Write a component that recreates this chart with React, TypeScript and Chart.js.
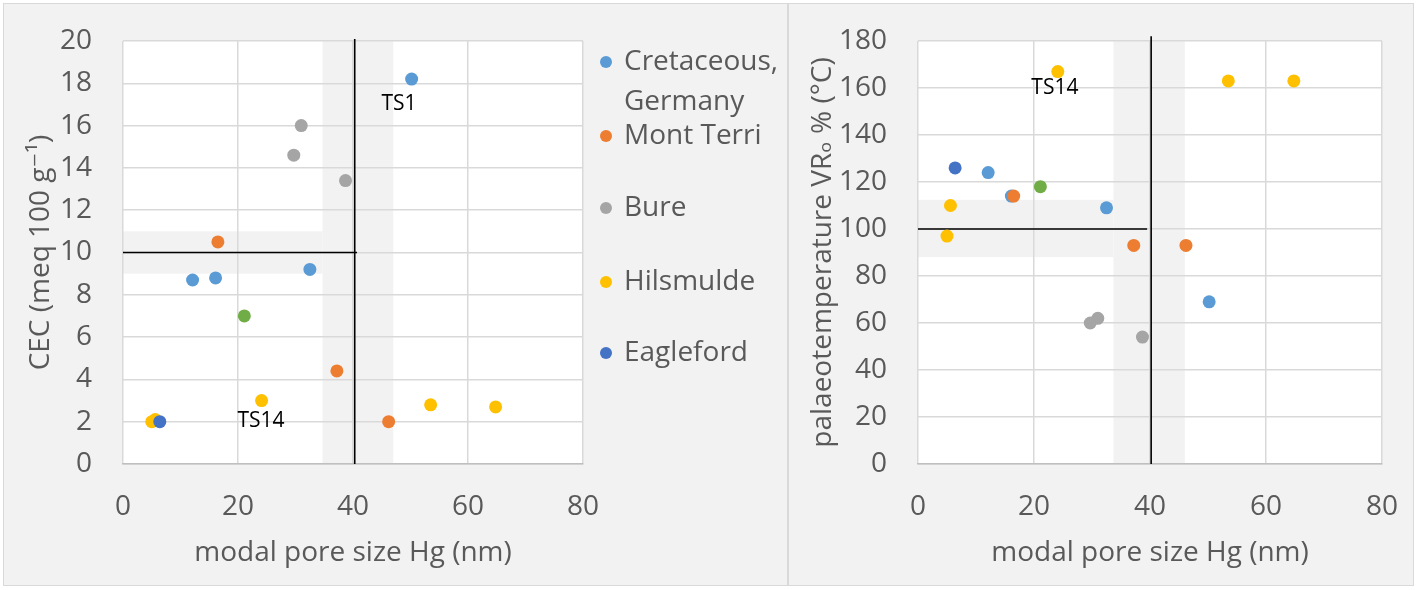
import React, { useEffect, useRef } from 'react';
import { Chart, registerables } from 'chart.js';

Chart.register(...registerables);

// ---------- Data ----------
const seriesNames = ['Cretaceous, Germany', 'Mont Terri', 'Bure', 'Hilsmulde', 'Eagleford', 'Other'];
const seriesColors = ['#5B9BD5', '#ED7D31', '#A5A5A5', '#FFC000', '#4472C4', '#70AD47'];
const legendLines = [['Cretaceous,', 'Germany'], ['Mont Terri'], ['Bure'], ['Hilsmulde'], ['Eagleford']];

// modal pore size Hg (nm)
const cretPore = [50.2, 12.1, 16.1, 32.5];
const montPore = [16.5, 37.2, 46.2];
const burePore = [31.0, 29.7, 38.7];
const hilsPore = [5.0, 5.6, 24.1, 53.5, 64.8];
const eaglePore = [6.4];
const otherPore = [21.1];

// CEC (meq 100 g-1)
const cretCEC = [18.2, 8.7, 8.8, 9.2];
const montCEC = [10.5, 4.4, 2.0];
const bureCEC = [16.0, 14.6, 13.4];
const hilsCEC = [2.0, 2.1, 3.0, 2.8, 2.7];
const eagleCEC = [2.0];
const otherCEC = [7.0];

// palaeotemperature (°C)
const cretTemp = [69, 124, 114, 109];
const montTemp = [114, 93, 93];
const bureTemp = [62, 60, 54];
const hilsTemp = [97, 110, 167, 163, 163];
const eagleTemp = [126];
const otherTemp = [118];

const xTicks = [0, 20, 40, 60, 80];
const cecTicks = [0, 2, 4, 6, 8, 10, 12, 14, 16, 18, 20];
const tempTicks = [0, 20, 40, 60, 80, 100, 120, 140, 160, 180];

// shaded ranges and reference lines (data units)
const cecBandX = [34.7, 47.0];
const cecBandY = [9.0, 11.0];
const cecRefX = 40.3;
const cecRefY = 10;
const cecRefYEnd = 40.7;
const tempBandX = [33.7, 46.0];
const tempBandY = [88, 112.4];
const tempRefX = 40.2;
const tempRefY = 100;
const tempRefYEnd = 39.5;

// text labels
const cecLabels = [{ text: 'TS1', x: 48, y: 17.0 }, { text: 'TS14', x: 24, y: 2.05 }];
const tempLabels = [{ text: 'TS14', x: 23.6, y: 160 }];

// ---------- Styling ----------
const FONT = "'Open Sans', 'DejaVu Sans', sans-serif";
const TEXT = '#595959';
const GRID = '#D9D9D9';

function buildDatasets(ys: number[][]) {
  const xs = [cretPore, montPore, burePore, hilsPore, eaglePore, otherPore];
  return xs.map((xArr, i) => ({
    label: seriesNames[i],
    data: xArr.map((x, j) => ({ x, y: ys[i][j] })),
    backgroundColor: seriesColors[i],
    borderColor: seriesColors[i],
    borderWidth: 0,
    pointRadius: 6.5,
    pointHoverRadius: 6.5,
    order: 10 - i,
  }));
}

function decorPlugin(cfg: {
  bandX: number[]; bandY: number[]; bandYEnd: number; refX: number; refXTop: number; refY: number; refYEnd: number; labels: { text: string; x: number; y: number }[];
}) {
  return {
    id: 'decor',
    beforeDraw(chart: any) {
      const { ctx, chartArea, scales } = chart;
      const xs = scales.x, ys = scales.y;
      ctx.save();
      ctx.fillStyle = '#FFFFFF';
      ctx.fillRect(chartArea.left, chartArea.top, chartArea.right - chartArea.left, chartArea.bottom - chartArea.top);
      ctx.fillStyle = '#F2F2F2';
      const bx0 = xs.getPixelForValue(cfg.bandX[0]);
      const bx1 = xs.getPixelForValue(cfg.bandX[1]);
      ctx.fillRect(bx0, chartArea.top, bx1 - bx0, chartArea.bottom - chartArea.top);
      const by0 = ys.getPixelForValue(cfg.bandY[1]);
      const by1 = ys.getPixelForValue(cfg.bandY[0]);
      const hx0 = xs.getPixelForValue(0);
      const hx1 = xs.getPixelForValue(cfg.bandYEnd);
      ctx.fillRect(hx0, by0, hx1 - hx0, by1 - by0);
      ctx.restore();
    },
    beforeDatasetsDraw(chart: any) {
      const { ctx, scales } = chart;
      const xs = scales.x, ys = scales.y;
      ctx.save();
      ctx.strokeStyle = '#000000';
      ctx.lineWidth = 1.6;
      ctx.beginPath();
      const vx = xs.getPixelForValue(cfg.refX);
      ctx.moveTo(vx, ys.getPixelForValue(cfg.refXTop));
      ctx.lineTo(vx, ys.getPixelForValue(0));
      ctx.stroke();
      ctx.beginPath();
      const hy = ys.getPixelForValue(cfg.refY);
      ctx.moveTo(xs.getPixelForValue(0), hy);
      ctx.lineTo(xs.getPixelForValue(cfg.refYEnd), hy);
      ctx.stroke();
      ctx.restore();
    },
    afterDatasetsDraw(chart: any) {
      const { ctx, scales } = chart;
      ctx.save();
      ctx.fillStyle = '#000000';
      ctx.font = `21px ${FONT}`;
      ctx.textAlign = 'center';
      ctx.textBaseline = 'middle';
      cfg.labels.forEach((l) => {
        ctx.fillText(l.text, scales.x.getPixelForValue(l.x), scales.y.getPixelForValue(l.y));
      });
      ctx.restore();
    },
  };
}

const legendPlugin = {
  id: 'customLegend',
  afterDraw(chart: any) {
    const { ctx } = chart;
    const rows = [62, 136, 208, 282, 353];
    ctx.save();
    ctx.font = `28px ${FONT}`;
    ctx.textBaseline = 'middle';
    ctx.textAlign = 'left';
    legendLines.forEach((lines, i) => {
      const y = rows[i];
      ctx.fillStyle = seriesColors[i];
      ctx.beginPath();
      ctx.arc(606, y, 6, 0, Math.PI * 2);
      ctx.fill();
      ctx.fillStyle = TEXT;
      lines.forEach((t, k) => ctx.fillText(t, 624, y + k * 40));
    });
    ctx.restore();
  },
};

function makeOptions(opts: { yMax: number; yTitle: string; yWidth: number; yTitlePad: number; rightPad: number; yTicks: number[] }) {
  return {
    responsive: false,
    animation: false as const,
    layout: { padding: { top: 41, right: opts.rightPad, left: 0, bottom: 0 } },
    plugins: { legend: { display: false }, tooltip: { enabled: false } },
    scales: {
      x: {
        type: 'linear' as const,
        min: 0,
        max: 80,
        afterBuildTicks: (s: any) => { s.ticks = xTicks.map((v) => ({ value: v })); },
        afterFit: (s: any) => { s.height = 126; s.paddingLeft = 0; s.paddingRight = 0; },
        ticks: { color: TEXT, font: { family: FONT, size: 28 }, padding: 26, maxRotation: 0 },
        grid: { color: GRID, lineWidth: 1.5, drawTicks: false },
        border: { display: true, color: '#BFBFBF', width: 1.5 },
        title: { display: true, text: 'modal pore size Hg (nm)', color: TEXT, font: { family: FONT, size: 28 }, padding: { top: 20, bottom: 20 } },
      },
      y: {
        type: 'linear' as const,
        min: 0,
        max: opts.yMax,
        afterBuildTicks: (s: any) => { s.ticks = opts.yTicks.map((v) => ({ value: v })); },
        afterFit: (s: any) => { s.width = opts.yWidth; s.paddingTop = 0; s.paddingBottom = 0; },
        ticks: { color: TEXT, font: { family: FONT, size: 28 }, padding: 31 },
        grid: { color: GRID, lineWidth: 1.5, drawTicks: false },
        border: { display: false },
        title: { display: true, text: opts.yTitle, color: TEXT, font: { family: FONT, size: 28 }, padding: { top: opts.yTitlePad, bottom: opts.yTitlePad } },
      },
    },
  };
}

function CecChart() {
  const ref = useRef<HTMLCanvasElement | null>(null);
  useEffect(() => {
    if (!ref.current) return;
    const chart = new Chart(ref.current, {
      type: 'scatter',
      data: { datasets: buildDatasets([cretCEC, montCEC, bureCEC, hilsCEC, eagleCEC, otherCEC]) as any },
      options: makeOptions({ yMax: 20, yTitle: 'CEC (meq 100 g\u207B\u00B9)', yWidth: 123, yTitlePad: 24, rightPad: 205, yTicks: cecTicks }) as any,
      plugins: [
        decorPlugin({ bandX: cecBandX, bandY: cecBandY, bandYEnd: cecBandX[0], refX: cecRefX, refXTop: 20.1, refY: cecRefY, refYEnd: cecRefYEnd, labels: cecLabels }),
        legendPlugin,
      ],
    });
    return () => chart.destroy();
  }, []);
  return <canvas ref={ref} width={788} height={590} style={{ position: 'absolute', left: 0, top: 0, width: 788, height: 590 }} />;
}

function TempChart() {
  const ref = useRef<HTMLCanvasElement | null>(null);
  useEffect(() => {
    if (!ref.current) return;
    const chart = new Chart(ref.current, {
      type: 'scatter',
      data: { datasets: buildDatasets([cretTemp, montTemp, bureTemp, hilsTemp, eagleTemp, otherTemp]) as any },
      options: makeOptions({ yMax: 180, yTitle: 'palaeotemperature VR\u2092 % (\u00B0C)', yWidth: 130, yTitlePad: 18, rightPad: 36, yTicks: tempTicks }) as any,
      plugins: [
        decorPlugin({ bandX: tempBandX, bandY: tempBandY, bandYEnd: tempBandX[0], refX: tempRefX, refXTop: 182, refY: tempRefY, refYEnd: tempRefYEnd, labels: tempLabels }),
      ],
    });
    return () => chart.destroy();
  }, []);
  return <canvas ref={ref} width={630} height={590} style={{ position: 'absolute', left: 788, top: 0, width: 630, height: 590 }} />;
}

export default function App() {
  const panel = (left: number, width: number): React.CSSProperties => ({
    position: 'absolute', left, top: 3, width, height: 583, boxSizing: 'border-box',
    border: '1.5px solid #D9D9D9', background: '#F2F2F2',
  });
  return (
    <div style={{ position: 'fixed', left: 0, top: 0, width: 1418, height: 590, background: '#FFFFFF', overflow: 'hidden' }}>
      <div style={panel(3, 785)} />
      <div style={panel(788, 626)} />
      <CecChart />
      <TempChart />
    </div>
  );
}
